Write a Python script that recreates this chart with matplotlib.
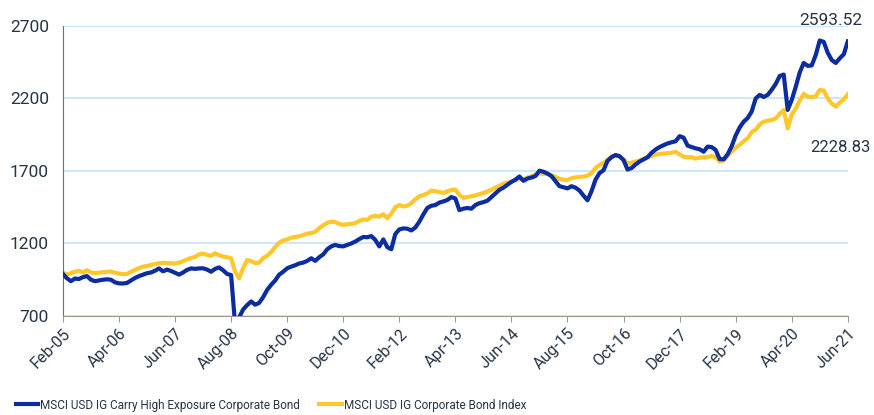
import matplotlib.pyplot as plt
import numpy as np
import pandas as pd

# monthly index levels, Feb-05 .. Jun-21
carry_high = [
    990, 960, 940, 958, 955, 968, 975, 950, 940, 945, 950, 953,
    950, 932, 925, 924, 928, 945, 962, 975, 985, 995, 1000, 1012,
    1028, 1008, 1020, 1010, 998, 985, 1000, 1018, 1028, 1025, 1028, 1029,
    1020, 1005, 1025, 1035, 1015, 990, 982, 640, 690, 745, 775, 800,
    778, 790, 830, 880, 915, 945, 985, 1005, 1029, 1040, 1050, 1062,
    1068, 1080, 1098, 1080, 1105, 1125, 1160, 1180, 1190, 1182, 1180, 1190,
    1200, 1213, 1230, 1245, 1243, 1251, 1225, 1180, 1228, 1175, 1160, 1265,
    1297, 1304, 1302, 1290, 1310, 1350, 1400, 1445, 1460, 1465, 1482, 1490,
    1500, 1520, 1510, 1430, 1440, 1445, 1440, 1465, 1478, 1485, 1495, 1520,
    1545, 1570, 1585, 1605, 1625, 1640, 1662, 1632, 1648, 1655, 1665, 1702,
    1695, 1682, 1665, 1630, 1595, 1588, 1580, 1595, 1585, 1565, 1530, 1498,
    1560, 1640, 1685, 1705, 1770, 1795, 1810, 1802, 1775, 1710, 1720, 1745,
    1765, 1780, 1795, 1825, 1848, 1865, 1878, 1890, 1898, 1905, 1940, 1930,
    1875, 1865, 1856, 1850, 1833, 1868, 1865, 1845, 1782, 1780, 1815, 1870,
    1945, 2000, 2040, 2065, 2110, 2200, 2225, 2210, 2225, 2260, 2300, 2355,
    2365, 2121, 2190, 2280, 2380, 2445, 2425, 2428, 2500, 2600, 2590, 2515,
    2465, 2445, 2477, 2505, 2593.52,
]
ig_index = [
    1000, 985, 995, 1005, 1012, 1000, 1015, 1000, 995, 998, 1002, 1005,
    1006, 998, 992, 988, 990, 1005, 1018, 1030, 1040, 1045, 1052, 1058,
    1063, 1067, 1065, 1063, 1062, 1068, 1078, 1090, 1100, 1108, 1125, 1130,
    1122, 1115, 1132, 1120, 1110, 1105, 1098, 1005, 960, 1030, 1086, 1078,
    1065, 1068, 1100, 1115, 1140, 1175, 1205, 1220, 1228, 1240, 1245, 1250,
    1258, 1268, 1272, 1280, 1305, 1325, 1342, 1350, 1348, 1335, 1328, 1332,
    1336, 1340, 1355, 1366, 1362, 1385, 1390, 1385, 1402, 1375, 1405, 1450,
    1465, 1455, 1460, 1478, 1505, 1525, 1535, 1545, 1565, 1560, 1555, 1548,
    1560, 1568, 1572, 1535, 1515, 1520, 1525, 1532, 1540, 1548, 1558, 1570,
    1585, 1598, 1612, 1620, 1626, 1635, 1645, 1642, 1655, 1662, 1675, 1684,
    1680, 1682, 1668, 1660, 1645, 1640, 1638, 1650, 1656, 1658, 1662, 1668,
    1685, 1720, 1742, 1755, 1775, 1800, 1808, 1800, 1780, 1752, 1757, 1765,
    1772, 1782, 1795, 1803, 1812, 1818, 1820, 1823, 1826, 1832, 1815, 1798,
    1795, 1795, 1785, 1792, 1795, 1796, 1803, 1795, 1765, 1772, 1805, 1835,
    1860, 1880, 1905, 1925, 1968, 1985, 2020, 2040, 2047, 2052, 2062, 2095,
    2120, 1994, 2090, 2130, 2185, 2232, 2213, 2210, 2215, 2258, 2255, 2201,
    2165, 2145, 2170, 2195, 2228.83,
]
dates = pd.date_range("2005-02-01", periods=len(carry_high), freq="MS")
labels = {
    "carry": "MSCI USD IG Carry High Exposure Corporate Bond",
    "index": "MSCI USD IG Corporate Bond Index",
}
colors = {"carry": "#0c2c9f", "index": "#ffc72c"}
text_color = "#263445"

plt.rcParams["font.family"] = ["Roboto", "DejaVu Sans"]

fig = plt.figure(figsize=(8.74, 4.15), dpi=100)
ax = fig.add_axes([0.072, 0.2386, 0.898, 0.6988])

x = np.arange(len(dates))
ax.plot(x, carry_high, color=colors["carry"], lw=3.0, label=labels["carry"],
        zorder=3, solid_joinstyle="round")
ax.plot(x, ig_index, color=colors["index"], lw=3.0, label=labels["index"],
        zorder=2, solid_joinstyle="round")

ax.set_xlim(0, len(dates) - 1)
ax.set_ylim(700, 2700)
ax.set_yticks([700, 1200, 1700, 2200, 2700])
ax.yaxis.grid(True, color="#c4e4f7", lw=1.2)
ax.set_axisbelow(True)

ticks = x[::14]
ax.set_xticks(ticks)
ax.set_xticklabels([d.strftime("%b-%y") for d in dates[::14]],
                   rotation=45, ha="right", rotation_mode="anchor")

for s in ["top", "right"]:
    ax.spines[s].set_visible(False)
ax.spines["left"].set_color("#707070")
ax.spines["bottom"].set_color("#9a9a9a")
ax.tick_params(axis="y", length=0, pad=10, labelsize=12.5, labelcolor=text_color)
ax.tick_params(axis="x", length=4, color="#9a9a9a", pad=3, labelsize=11.5,
               labelcolor=text_color)

# end values
ax.text(191.8, 2741, f"{carry_high[-1]:.2f}", ha="center", va="center",
        fontsize=12.5, color=text_color, clip_on=False)
ax.text(186.6, 1859, f"{ig_index[-1]:.2f}", ha="left", va="center",
        fontsize=12, color=text_color, clip_on=False)

fig.legend(loc="center", bbox_to_anchor=(0.31, 0.024), ncol=2, frameon=False,
           handlelength=1.9, handletextpad=0.2, columnspacing=1.6,
           prop={"size": 8.5}, labelcolor=text_color)

fig.savefig("out.png", dpi=100)
plt.close(fig)
